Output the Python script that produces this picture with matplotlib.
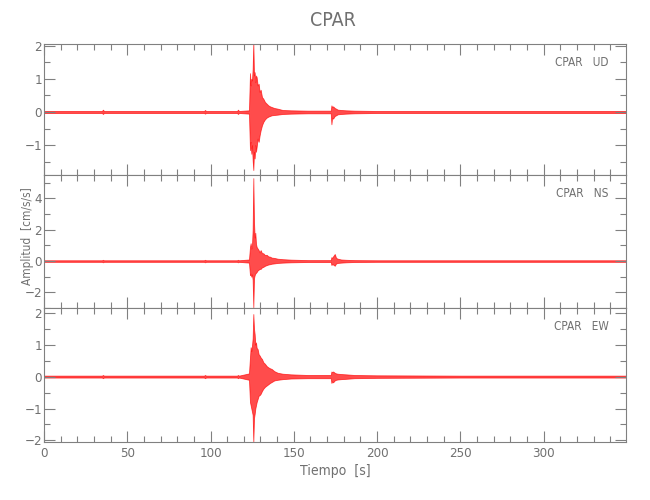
import numpy as np
import matplotlib
matplotlib.use('Agg')
import matplotlib.pyplot as plt
from matplotlib.ticker import MultipleLocator

T = [0, 34.8, 35.4, 36.0, 96.1, 96.7, 97.3, 115.9, 116.5, 117.1,
     123.1, 123.7, 124.1, 124.5, 124.9, 125.3, 125.7, 126.1, 126.5, 126.9,
     127.3, 127.7, 128.3, 128.9, 129.5, 130.1, 130.9, 131.7, 132.7, 133.7,
     134.7, 135.7, 136.7, 138.3, 140.3, 143.3, 148.3, 158.3,
     172.2, 172.6, 173.0, 173.6, 174.6, 175.4, 176.4, 178.4, 181.4, 186.4,
     200, 250, 300, 350]

# UD component [cm/s/s]
ud_up = [0.03, 0.03, 0.07, 0.03, 0.03, 0.06, 0.03, 0.03, 0.07, 0.03,
         0.05, 1.17, 0.8, 1.0, 0.95, 1.3, 2.1, 1.1, 1.2, 0.9,
         1.1, 1.05, 0.8, 0.85, 0.6, 0.67, 0.45, 0.4, 0.3, 0.25,
         0.2, 0.17, 0.15, 0.12, 0.1, 0.06, 0.05, 0.04,
         0.04, 0.2, 0.15, 0.17, 0.12, 0.1, 0.07, 0.06, 0.05, 0.04,
         0.03, 0.03, 0.03, 0.03]
ud_lo = [-0.03, -0.03, -0.06, -0.03, -0.03, -0.05, -0.03, -0.03, -0.06, -0.03,
         -0.05, -1.15, -0.9, -1.26, -1.0, -1.45, -1.75, -1.2, -1.4, -1.0,
         -1.2, -1.05, -0.8, -0.9, -0.7, -0.55, -0.4, -0.3, -0.22, -0.17,
         -0.14, -0.12, -0.1, -0.09, -0.08, -0.06, -0.05, -0.04,
         -0.04, -0.37, -0.17, -0.2, -0.12, -0.1, -0.07, -0.06, -0.05, -0.04,
         -0.03, -0.03, -0.03, -0.03]

# NS component
ns_up = [0.05, 0.05, 0.08, 0.05, 0.05, 0.08, 0.05, 0.05, 0.08, 0.05,
         0.1, 0.9, 1.14, 0.8, 1.0, 2.0, 5.3, 2.5, 1.5, 1.8,
         1.1, 0.9, 0.8, 0.7, 0.55, 0.7, 0.5, 0.5, 0.38, 0.4,
         0.3, 0.28, 0.22, 0.2, 0.15, 0.12, 0.09, 0.06,
         0.06, 0.25, 0.2, 0.3, 0.45, 0.2, 0.15, 0.1, 0.08, 0.06,
         0.05, 0.05, 0.05, 0.05]
ns_lo = [-0.05, -0.05, -0.08, -0.05, -0.05, -0.08, -0.05, -0.05, -0.08, -0.05,
         -0.1, -0.9, -0.8, -1.0, -0.85, -1.2, -2.95, -1.1, -0.9, -0.8,
         -0.75, -0.7, -0.6, -0.55, -0.5, -0.5, -0.4, -0.37, -0.3, -0.26,
         -0.22, -0.2, -0.17, -0.15, -0.12, -0.1, -0.08, -0.06,
         -0.06, -0.25, -0.2, -0.22, -0.3, -0.15, -0.12, -0.1, -0.08, -0.06,
         -0.05, -0.05, -0.05, -0.05]

# EW component
ew_up = [0.03, 0.03, 0.05, 0.03, 0.03, 0.05, 0.03, 0.03, 0.05, 0.03,
         0.1, 0.6, 0.92, 0.8, 0.97, 1.2, 1.96, 1.5, 1.33, 1.0,
         1.07, 0.9, 0.86, 0.7, 0.66, 0.6, 0.55, 0.45, 0.4, 0.33,
         0.29, 0.26, 0.24, 0.17, 0.12, 0.09, 0.07, 0.05,
         0.05, 0.16, 0.14, 0.16, 0.12, 0.1, 0.09, 0.08, 0.07, 0.05,
         0.04, 0.03, 0.03, 0.03]
ew_lo = [-0.03, -0.03, -0.05, -0.03, -0.03, -0.05, -0.03, -0.03, -0.05, -0.03,
         -0.1, -0.8, -0.9, -1.0, -1.1, -1.2, -2.05, -1.3, -1.17, -1.0,
         -0.9, -0.8, -0.7, -0.6, -0.58, -0.54, -0.45, -0.38, -0.32, -0.28,
         -0.24, -0.2, -0.17, -0.12, -0.1, -0.08, -0.06, -0.05,
         -0.05, -0.2, -0.15, -0.18, -0.12, -0.1, -0.09, -0.08, -0.07, -0.05,
         -0.04, -0.03, -0.03, -0.03]

labels = ['CPAR   UD', 'CPAR   NS', 'CPAR   EW']
ylims = [(-1.9, 2.05), (-3.0, 5.5), (-2.05, 2.15)]
major = [1, 2, 1]
minor = [0.5, 1, 0.5]

grey = '#808080'
txt = '#707070'
plt.rcParams['font.family'] = ['DejaVu Sans']
plt.rcParams['font.stretch'] = 'condensed'

fig = plt.figure(figsize=(6.5, 5), dpi=100, facecolor='white')

# panel edges in figure fraction
edges = [0.912, 0.650, 0.384, 0.116]
left = 44 / 650
width = (626 - 44) / 650

series = [(ud_up, ud_lo), (ns_up, ns_lo), (ew_up, ew_lo)]
axes = []
for i in range(3):
    ax = fig.add_axes([left, edges[i + 1], width, edges[i] - edges[i + 1]])
    up, lo = series[i]
    ax.fill_between(T, lo, up, color='red', alpha=0.7, linewidth=0.6, edgecolor='red')
    ax.set_xlim(0, 349.5)
    ax.set_ylim(*ylims[i])
    ax.xaxis.set_major_locator(MultipleLocator(50))
    ax.xaxis.set_minor_locator(MultipleLocator(10))
    ax.yaxis.set_major_locator(MultipleLocator(major[i]))
    ax.yaxis.set_minor_locator(MultipleLocator(minor[i]))
    ax.tick_params(which='both', direction='in', top=True, right=True,
                   color=grey, labelcolor=txt, labelsize=9.5, width=0.8)
    ax.tick_params(axis='y', pad=1.5)
    ax.tick_params(which='major', length=8)
    ax.tick_params(which='minor', length=4)
    for s in ax.spines.values():
        s.set_color(grey)
        s.set_linewidth(0.8)
    if i < 2:
        ax.tick_params(labelbottom=False)
    ax.text(0.97, 0.86, labels[i], transform=ax.transAxes, ha='right',
            va='center', color=txt, fontsize=8.5)
    axes.append(ax)

axes[2].set_xlabel('Tiempo  [s]', color=txt, fontsize=10, labelpad=3)
fig.text(0.043, 0.528, 'Amplitud  [cm/s/s]', rotation=90, ha='center',
         va='center', color=txt, fontsize=8.5)
fig.text(0.512, 0.958, 'CPAR', ha='center', va='center', color=txt, fontsize=14)

fig.savefig('out.png', dpi=100)
